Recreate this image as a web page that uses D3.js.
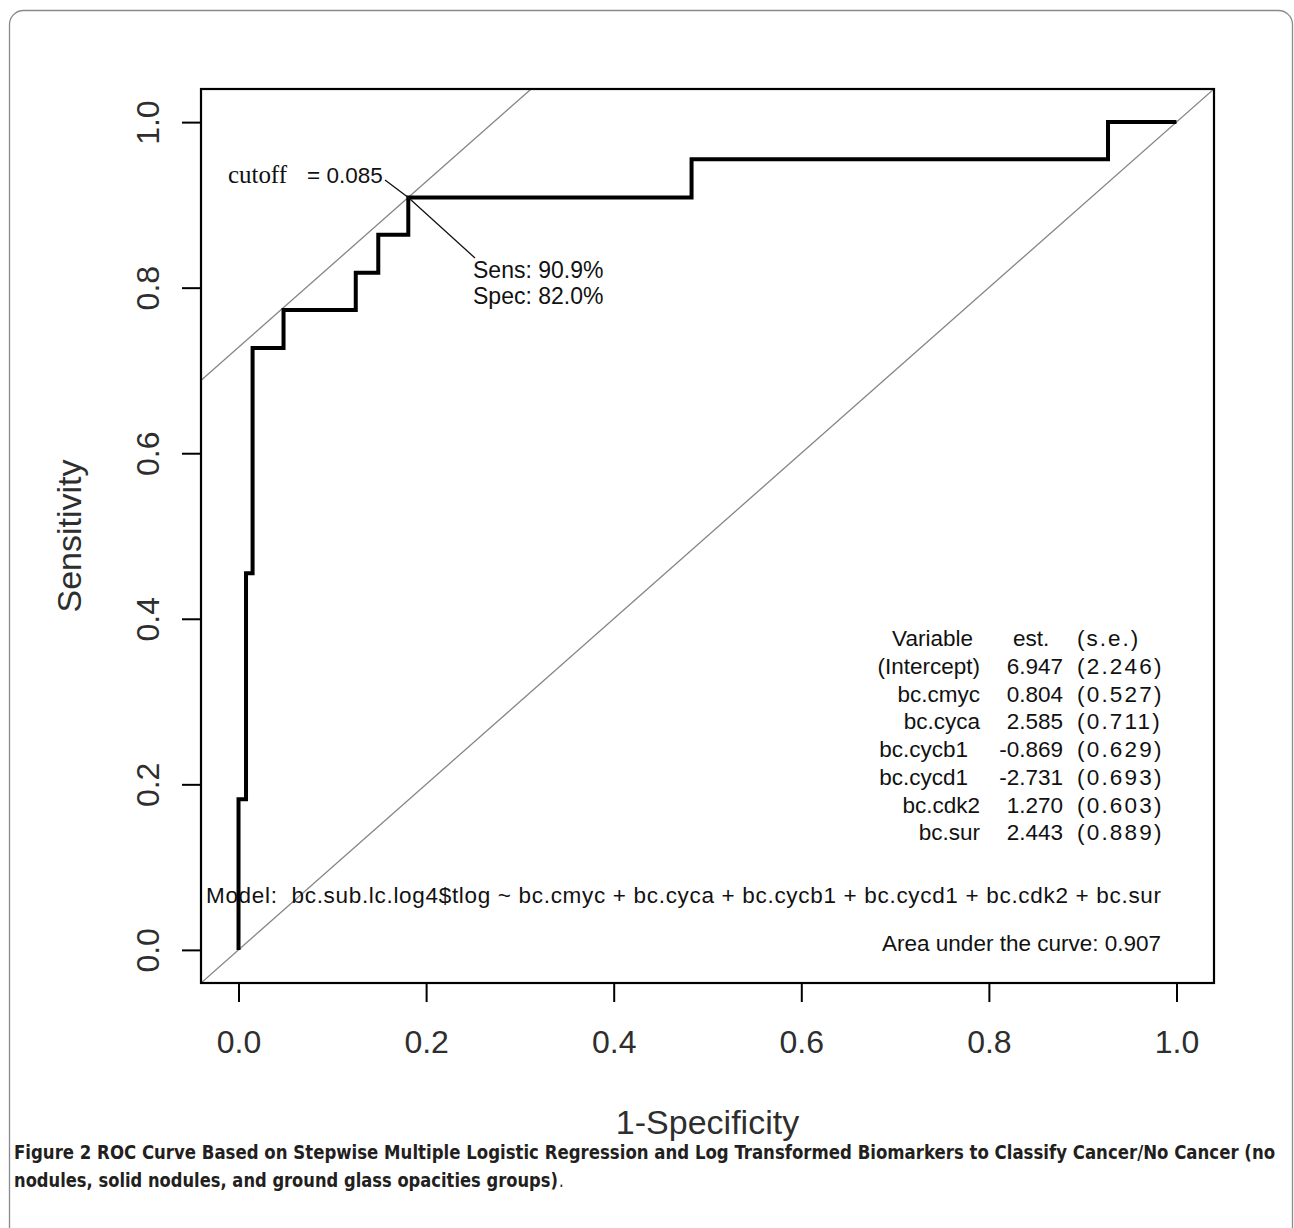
<!DOCTYPE html>
<html>
<head>
<meta charset="utf-8">
<script src="https://cdn.jsdelivr.net/npm/d3@7"></script>
<style>
  body { margin: 0; background: #fff; }
  svg { display: block; }
  text { font-family: "Liberation Sans", Arial, sans-serif; }
</style>
</head>
<body>
<div id="chart"></div>
<script>
// ROC step curve (1-specificity, sensitivity)
var rocFpr = [0, 0, 0.008, 0.015, 0.048, 0.125, 0.149, 0.181, 0.483, 0.927, 1.0];
var rocTpr = [0, 0.182, 0.455, 0.727, 0.773, 0.818, 0.864, 0.909, 0.955, 1.0, 1.0];

var xTicks = [0, 0.2, 0.4, 0.6, 0.8, 1.0];
var yTicks = [0, 0.2, 0.4, 0.6, 0.8, 1.0];

// optimal cutoff point
var cutFpr = 0.181, cutSens = 0.909, cutValue = "0.085";
var sensLabel = "Sens: 90.9%", specLabel = "Spec: 82.0%";

// model coefficients table
var varNames = ["(Intercept)", "bc.cmyc", "bc.cyca", "bc.cycb1", "bc.cycd1", "bc.cdk2", "bc.sur"];
var varEst = ["6.947", "0.804", "2.585", "-0.869", "-2.731", "1.270", "2.443"];
var varSe = ["(2.246)", "(0.527)", "(0.711)", "(0.629)", "(0.693)", "(0.603)", "(0.889)"];

var modelText = "Model:  bc.sub.lc.log4$tlog ~ bc.cmyc + bc.cyca + bc.cycb1 + bc.cycd1 + bc.cdk2 + bc.sur";
var aucText = "Area under the curve: 0.907";

var W = 1294, H = 1228;
var svg = d3.select("#chart").append("svg")
    .attr("width", W).attr("height", H);

// card frame (runs off the bottom)
svg.append("rect")
    .attr("x", 9.5).attr("y", 10.5)
    .attr("width", 1283).attr("height", 1260)
    .attr("rx", 14).attr("ry", 14)
    .attr("fill", "#fff").attr("stroke", "#8a8a8a").attr("stroke-width", 1.3);

var x = d3.scaleLinear().domain([-0.04, 1.04]).range([201, 1214]);
var y = d3.scaleLinear().domain([-0.04, 1.04]).range([983, 89]);

svg.append("clipPath").attr("id", "plotclip")
  .append("rect")
    .attr("x", x(-0.04)).attr("y", y(1.04))
    .attr("width", x(1.04) - x(-0.04)).attr("height", y(-0.04) - y(1.04));

var plot = svg.append("g").attr("clip-path", "url(#plotclip)");

// reference lines: chance diagonal and slope-1 line through the cutoff
var lineGen = d3.line().x(function(d) { return x(d[0]); }).y(function(d) { return y(d[1]); });
plot.append("path")
    .attr("d", lineGen([[-0.1, -0.1], [1.1, 1.1]]))
    .attr("fill", "none").attr("stroke", "#858585").attr("stroke-width", 1.3);
var icpt = cutSens - cutFpr;
plot.append("path")
    .attr("d", lineGen([[-0.1, -0.1 + icpt], [1.1, 1.1 + icpt]]))
    .attr("fill", "none").attr("stroke", "#858585").attr("stroke-width", 1.3);

// ROC curve
var rocData = rocFpr.map(function(f, i) { return [f, rocTpr[i]]; });
plot.append("path")
    .datum(rocData)
    .attr("fill", "none")
    .attr("stroke", "#000")
    .attr("stroke-width", 4)
    .attr("stroke-linejoin", "miter")
    .attr("d", d3.line().curve(d3.curveStepAfter)
        .x(function(d) { return x(d[0]); })
        .y(function(d) { return y(d[1]); }));

// plot box
svg.append("rect")
    .attr("x", x(-0.04)).attr("y", y(1.04))
    .attr("width", x(1.04) - x(-0.04)).attr("height", y(-0.04) - y(1.04))
    .attr("fill", "none").attr("stroke", "#000").attr("stroke-width", 2.2);

// axes
var xAxis = svg.append("g")
    .attr("transform", "translate(0," + y(-0.04) + ")")
    .call(d3.axisBottom(x).tickValues(xTicks).tickSize(19).tickPadding(28).tickFormat(d3.format(".1f")));
var yAxis = svg.append("g")
    .attr("transform", "translate(" + x(-0.04) + ",0)")
    .call(d3.axisLeft(y).tickValues(yTicks).tickSize(19).tickFormat(d3.format(".1f")));
[xAxis, yAxis].forEach(function(a) {
  a.select(".domain").remove();
  a.selectAll(".tick line").attr("stroke", "#000").attr("stroke-width", 2);
  a.selectAll("text").attr("fill", "#2e2e2e").style("font-size", "32px")
    .style("font-family", "'Liberation Sans', Arial, sans-serif");
});
yAxis.selectAll(".tick text")
    .attr("x", null).attr("dy", null)
    .attr("text-anchor", "middle")
    .attr("transform", "translate(-42,0) rotate(-90)");

// axis titles
svg.append("text")
    .attr("x", x(0.5)).attr("y", 1134)
    .attr("text-anchor", "middle")
    .style("font-size", "34px").attr("fill", "#2e2e2e")
    .text("1-Specificity");
svg.append("text")
    .attr("transform", "translate(81," + y(0.5) + ") rotate(-90)")
    .attr("text-anchor", "middle")
    .style("font-size", "34px").attr("fill", "#2e2e2e")
    .text("Sensitivity");

// cutoff annotation
var cx = x(cutFpr), cy = y(cutSens);
svg.append("path")
    .attr("d", "M385,180L" + cx + "," + cy + "L475,258")
    .attr("fill", "none").attr("stroke", "#111").attr("stroke-width", 1.3);
var cut = svg.append("text").attr("x", 228).attr("y", 183).style("font-size", "22.5px").attr("fill", "#111");
cut.append("tspan").style("font-family", "'Liberation Serif', 'DejaVu Serif', serif")
    .style("font-size", "25px").attr("textLength", 59).text("cutoff");
cut.append("tspan").attr("x", 307).text("= " + cutValue);
svg.append("text").attr("x", 473).attr("y", 278).style("font-size", "23px").attr("fill", "#111").text(sensLabel);
svg.append("text").attr("x", 473).attr("y", 304).style("font-size", "23px").attr("fill", "#111").text(specLabel);

// coefficient table
var tbl = svg.append("g").style("font-size", "22.5px").attr("fill", "#111");
var rowY = d3.scaleLinear().domain([0, 1]).range([674, 701.7]);
tbl.append("text").attr("x", 973).attr("y", rowY(-1)).attr("text-anchor", "end").text("Variable");
tbl.append("text").attr("x", 1013).attr("y", rowY(-1)).text("est.");
tbl.append("text").attr("x", 1077).attr("y", rowY(-1)).style("letter-spacing", "2px").text("(s.e.)");
varNames.forEach(function(n, i) {
  var neg = varEst[i].charAt(0) === "-";
  tbl.append("text").attr("x", neg ? 968 : 980).attr("y", rowY(i)).attr("text-anchor", "end").text(n);
  tbl.append("text").attr("x", 1063).attr("y", rowY(i)).attr("text-anchor", "end").text(varEst[i]);
  tbl.append("text").attr("x", 1077).attr("y", rowY(i)).style("letter-spacing", "2.2px").text(varSe[i]);
});

svg.append("text").attr("x", 206).attr("y", 903)
    .style("font-size", "22.5px").attr("fill", "#111")
    .attr("xml:space", "preserve")
    .attr("textLength", 955).attr("lengthAdjust", "spacing")
    .text(modelText);
svg.append("text").attr("x", 1161).attr("y", 951).attr("text-anchor", "end")
    .style("font-size", "22.5px").attr("fill", "#111").text(aucText);

// figure caption: squeeze a normal bold face horizontally to mimic the condensed original
var capFont = "'Liberation Sans Narrow', 'DejaVu Sans Condensed', 'Liberation Sans', sans-serif";
function capLine(txt, yPos, width, bold) {
  var t = svg.append("text").attr("x", 0).attr("y", 0)
      .style("font-family", capFont).style("font-size", "19px")
      .style("font-weight", bold ? "bold" : "normal")
      .attr("fill", "#231f20").text(txt);
  var natural = t.node().getComputedTextLength();
  var k = width ? width / natural : 0.86;
  t.attr("transform", "translate(" + capLine.x + "," + yPos + ") scale(" + k + ",1)");
  capLine.x += natural * k;
  return t;
}
capLine.x = 14;
capLine("Figure 2 ROC Curve Based on Stepwise Multiple Logistic Regression and Log Transformed Biomarkers to Classify Cancer/No Cancer (no", 1159, 1262, true);
capLine.x = 14;
capLine("nodules, solid nodules, and ground glass opacities groups)", 1187, 544, true);
capLine.x += 1;
capLine(".", 1187, 0, false);
</script>
</body>
</html>
